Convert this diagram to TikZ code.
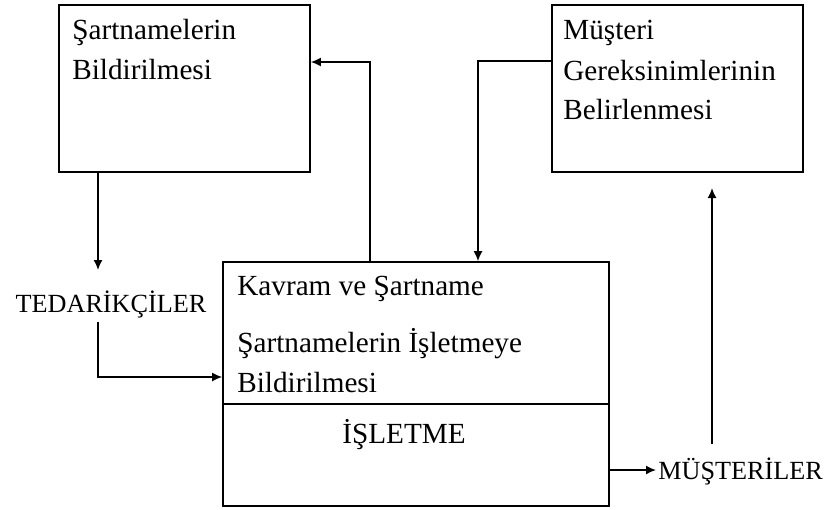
\documentclass[tikz,border=0pt]{standalone}
\usepackage{fontspec}
\setmainfont{Liberation Serif}
\usetikzlibrary{arrows.meta,calc}
\begin{document}
\begin{tikzpicture}[x=0.5pt,y=-0.5pt,
  box/.style={draw,line width=0.8pt,inner sep=0pt},
  txt/.style={anchor=base west,inner sep=0pt,font=\fontsize{14.6pt}{20pt}\selectfont},
  lbl/.style={inner sep=0pt,font=\fontsize{13.1pt}{16pt}\selectfont},
  arr/.style={line width=0.8pt,-{Latex[length=5pt,width=4.5pt]}},
  ln/.style={line width=0.8pt}]
\useasboundingbox (0,0) rectangle (828,509);
% boxes
\node[box,minimum width=125.5pt,minimum height=83.5pt] (sb) at (184.5,88.5) {};
\node[box,minimum width=125.5pt,minimum height=83.5pt] (mb) at (677.5,88.5) {};
\node[box,minimum width=193pt,minimum height=71pt] (top) at (416,333) {};
\node[box,minimum width=193pt,minimum height=51pt] (bot) at (416,455) {};
% box texts
\node[txt] (s1) at (72,39) {Şartnamelerin};
\node[txt] (s2) at (72,79) {Bildirilmesi};
\node[txt] (m1) at (563,39) {Müşteri};
\node[txt] (m2) at (563,80) {Gereksinimlerinin};
\node[txt] (m3) at (563,119) {Belirlenmesi};
\node[txt] (k1) at (237,295) {Kavram ve Şartname};
\node[txt] (k2) at (237,352) {Şartnamelerin İşletmeye};
\node[txt] (k3) at (237,392) {Bildirilmesi};
\node[txt] (isl) at (342,443) {İŞLETME};
% outside labels
\node[lbl,anchor=base] (ted) at (111,312) {TEDARİKÇİLER};
\node[lbl,anchor=base west] (mus) at (658,479) {MÜŞTERİLER};
% connector points
\coordinate (c1) at (370,62);
\coordinate (c2) at (98,270);
\coordinate (c3) at (98,322);
\coordinate (c4) at (478,61);
\coordinate (c5) at (712,444);
\coordinate (c6) at (712,188);
\coordinate (c7) at (0,377);
\coordinate (c8) at (0,470);
% connectors
\draw[arr] (top.north -| c1) |- (sb.east |- c1);
\draw[arr] (sb.south -| c2) -- (c2);
\draw[arr] (c3) |- (top.west |- c7);
\draw[arr] (mb.west |- c4) -| (top.north -| c4);
\draw[arr] (c5) -- (c6);
\draw[arr] (bot.east |- c8) -- ($(mus.west |- c8)+(-2,0)$);
\end{tikzpicture}
\end{document}
